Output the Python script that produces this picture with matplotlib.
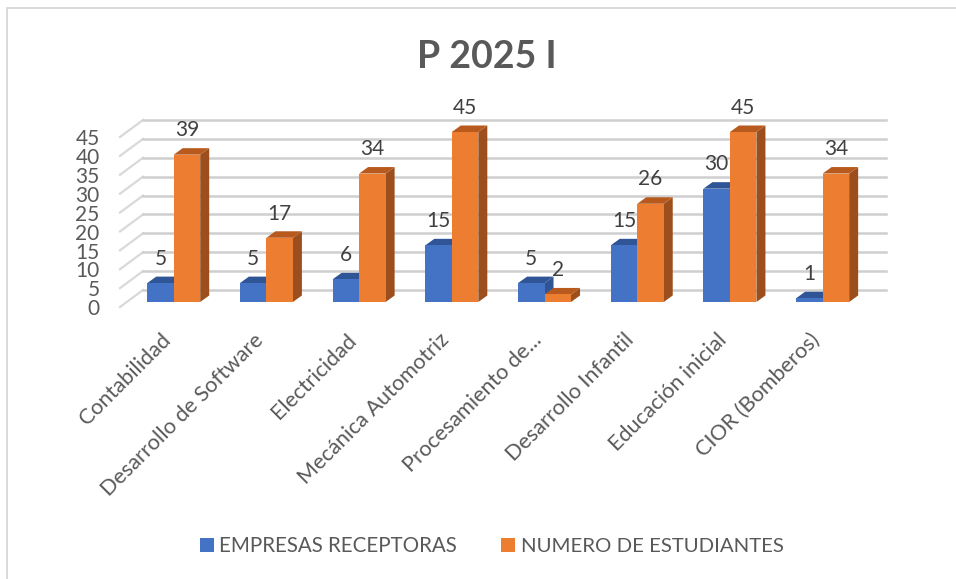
import matplotlib
matplotlib.use('Agg')
import matplotlib.pyplot as plt
from matplotlib.patches import Polygon, Rectangle

plt.rcParams['font.family'] = ['Lato', 'DejaVu Sans']

categorias = ['Contabilidad', 'Desarrollo de Software', 'Electricidad', 'Mecánica Automotriz',
              'Procesamiento de...', 'Desarrollo Infantil', 'Educación inicial', 'CIOR (Bomberos)']
empresas = [5, 5, 6, 15, 5, 15, 30, 1]
estudiantes = [39, 17, 34, 45, 2, 26, 45, 34]
ticks = [0, 5, 10, 15, 20, 25, 30, 35, 40, 45]

W, H = 956, 579
fig = plt.figure(figsize=(W / 100, H / 100), dpi=100)
fig.patch.set_facecolor('white')

# ejes: x = indice de categoria, y = valor. 92.7 px por categoria, 3.78 px por unidad
x0 = 127.35
x1 = 869.0
y0 = 302.0
y1 = 132.0
ax = fig.add_axes([x0 / W, 1 - y0 / H, (x1 - x0) / W, (y0 - y1) / H])
ax.set_xlim(-0.5, 7.5)
ax.set_ylim(0, 45)
ax.axis('off')
px_x = (x1 - x0) / 8
px_y = (y0 - y1) / 45

# marco del grafico (solo izquierda y arriba se ven en el recorte)
fig.add_artist(plt.Line2D([7 / W, 7 / W, 1], [0, 1 - 8 / H, 1 - 8 / H], transform=fig.transFigure,
                          color='#d9d9d9', lw=1.4))

# rejilla en perspectiva
for t in ticks:
    xa = -0.5 + (120 - x0) / px_x
    ya = t - 5 / px_y
    xb = -0.5 + (143 - x0) / px_x
    yb = t + 12 / px_y
    xc = -0.5 + (886 - x0) / px_x
    ax.plot([xa, xb], [ya, yb], color='#d9d9d9', lw=1.6, clip_on=False, zorder=1)
    ax.plot([xb, xc], [yb, yb], color='#cfcfcf', lw=1.8, clip_on=False, zorder=1)

# barras con caras lateral y superior
ancho = 26.5 / px_x
dx = 9 / px_x
dy = 6.5 / px_y


def barra3d(x, v, frente, lado, tope):
    ax.bar(x, v, ancho, align='edge', color=frente, zorder=3, clip_on=False)
    ax.add_patch(Polygon([(x + ancho, 0), (x + ancho + dx, dy), (x + ancho + dx, v + dy), (x + ancho, v)],
                         fc=lado, ec='none', zorder=2.5, clip_on=False))
    ax.add_patch(Polygon([(x, v), (x + dx, v + dy), (x + ancho + dx, v + dy), (x + ancho, v)],
                         fc=tope, ec='none', zorder=2.5, clip_on=False))


for i in range(len(categorias)):
    barra3d(i - ancho, empresas[i], '#4472c4', '#2f5597', '#2f5597')
    barra3d(i, estudiantes[i], '#ed7d31', '#9c4f1c', '#b85a1e')
    ax.annotate(str(empresas[i]), (i - ancho / 2, empresas[i] + dy), xytext=(0, 12.8),
                textcoords='offset points', ha='center', va='center', fontsize=15, color='#404040', zorder=6,
                annotation_clip=False)
    ax.annotate(str(estudiantes[i]), (i + ancho / 2, estudiantes[i] + dy), xytext=(0, 12.8),
                textcoords='offset points', ha='center', va='center', fontsize=15, color='#404040', zorder=6,
                annotation_clip=False)

# etiquetas eje y
for t in ticks:
    ax.annotate(str(t), (-0.5, t), xytext=(-20, -5.2), textcoords='offset points', ha='right', va='center',
                fontsize=15, color='#595959', annotation_clip=False)

# etiquetas eje x
for i, c in enumerate(categorias):
    ax.annotate(c, (i, 0), xytext=(-9.5, -20), textcoords='offset points', ha='right', va='top', rotation=45,
                rotation_mode='anchor', fontsize=15.6, color='#595959', annotation_clip=False)

fig.text(487 / W, 1 - 57.5 / H, 'P 2025 I', ha='center', va='center', fontsize=27, fontweight='bold', color='#595959')

# leyenda
fig.add_artist(Rectangle((200 / W, 1 - 552 / H), 14 / W, 14 / H, transform=fig.transFigure, fc='#4472c4', ec='none'))
fig.add_artist(Rectangle((501 / W, 1 - 552 / H), 14 / W, 14 / H, transform=fig.transFigure, fc='#ed7d31', ec='none'))
fig.text(219 / W, 1 - 546 / H, 'EMPRESAS RECEPTORAS', ha='left', va='center', fontsize=14.8, color='#595959')
fig.text(521 / W, 1 - 546 / H, 'NUMERO DE ESTUDIANTES', ha='left', va='center', fontsize=14.7, color='#595959')

fig.savefig('out.png', dpi=100)
